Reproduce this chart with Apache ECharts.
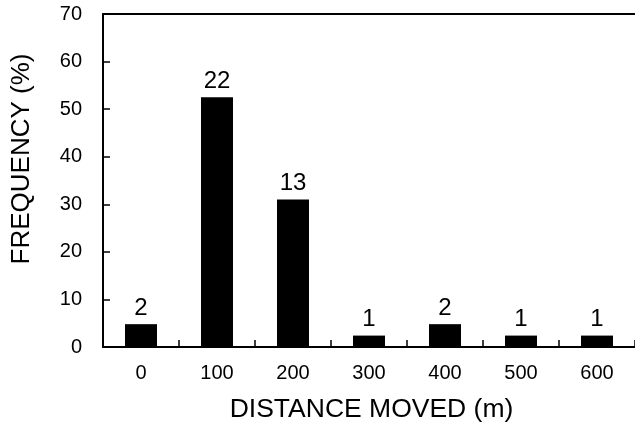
<!DOCTYPE html>
<html><head><meta charset="utf-8">
<script src="https://cdn.jsdelivr.net/npm/echarts@6/dist/echarts.min.js"></script>
<style>html,body{margin:0;padding:0;background:#fff}#c{width:635px;height:428px}</style>
</head><body><div id="c"></div>
<script>
const categories = ['0','100','200','300','400','500','600'];
const frequencyPct = [4.8, 52.5, 31.0, 2.4, 4.8, 2.4, 2.4];
const countLabels = ['2','22','13','1','2','1','1'];
const yTicks = [0,10,20,30,40,50,60,70];

const chart = echarts.init(document.getElementById('c'));
const font = 'Liberation Sans, Arial, sans-serif';
chart.setOption({
  animation:false,
  grid:{left:103,right:-1,top:14,bottom:81,containLabel:false},
  xAxis:[{
    type:'category', data:categories,
    axisLine:{lineStyle:{color:'#000',width:2}},
    axisTick:{show:true,inside:true,length:7,lineStyle:{color:'#000',width:1.5}},
    axisLabel:{color:'#000',fontSize:20,fontFamily:font,margin:16},
    name:'DISTANCE MOVED (m)', nameLocation:'middle', nameGap:49,
    nameTextStyle:{color:'#000',fontSize:26.5,fontFamily:font,padding:[0,0,0,5]}
  },{
    type:'category', position:'top', data:categories,
    axisLine:{lineStyle:{color:'#000',width:2}},
    axisTick:{show:false}, axisLabel:{show:false}
  }],
  yAxis:{
    type:'value', min:yTicks[0], max:yTicks[yTicks.length-1], interval:10,
    axisLine:{show:true,lineStyle:{color:'#000',width:2}},
    axisTick:{show:true,inside:true,length:7,lineStyle:{color:'#000',width:1.5}},
    axisLabel:{color:'#000',fontSize:20,fontFamily:font,margin:21},
    splitLine:{show:false},
    name:'FREQUENCY (%)', nameLocation:'middle', nameGap:68,
    nameTextStyle:{color:'#000',fontSize:26,fontFamily:font,padding:[0,0,0,43]}
  },
  series:[{
    type:'bar', data:frequencyPct, barWidth:32,
    itemStyle:{color:'#000'},
    label:{show:true,position:'top',distance:4,color:'#000',fontSize:24,fontFamily:font,
      formatter:p=>countLabels[p.dataIndex]}
  }]
});
</script></body></html>
